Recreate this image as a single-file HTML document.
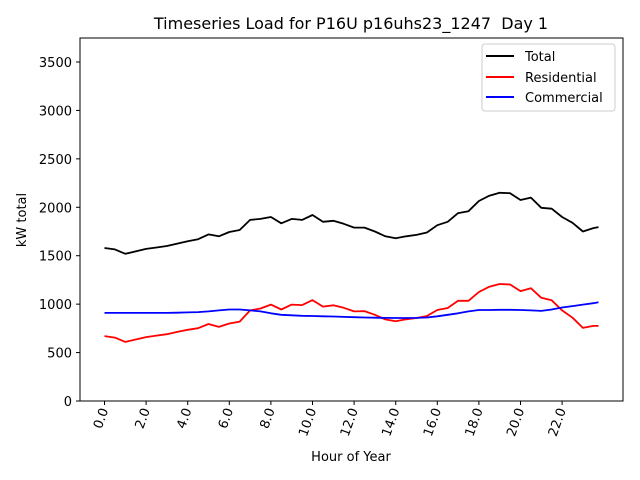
<!DOCTYPE html>
<html><head><meta charset="utf-8"><style>
body{margin:0;background:#fff;}
svg{display:block;font-family:"DejaVu Sans","Liberation Sans",sans-serif;}
</style></head><body>
<svg id="chart" width="640" height="480" viewBox="0 0 640 480">
<rect width="640" height="480" fill="#fff"/>
<text x="351" y="29" font-size="16" text-anchor="middle" style="white-space:pre">Timeseries Load for P16U p16uhs23_1247&#160; Day 1</text>
<g id="grid"></g>
<g id="series"></g>
<rect x="80" y="38" width="543" height="363" fill="none" stroke="#000" stroke-width="1"/>
<text x="351" y="461" font-size="13" text-anchor="middle">Hour of Year</text>
<text transform="translate(26,220) rotate(-90)" font-size="13" text-anchor="middle">kW total</text>
<g>
<rect x="482" y="44" width="133" height="67" rx="3" fill="#fff" stroke="#ccc" stroke-width="1"/>
<g><line x1="486" y1="56" x2="514" y2="56" stroke="#000" stroke-width="2"/><text x="525" y="61" font-size="13">Total</text></g>
<g><line x1="486" y1="77" x2="514" y2="77" stroke="#f00" stroke-width="2"/><text x="525" y="82" font-size="13">Residential</text></g>
<g><line x1="486" y1="97" x2="514" y2="97" stroke="#00f" stroke-width="2"/><text x="525" y="102" font-size="13">Commercial</text></g>
</g>
</svg>
<script>
const hours=[0,0.5,1,1.5,2,2.5,3,3.5,4,4.5,5,5.5,6,6.5,7,7.5,8,8.5,9,9.5,10,10.5,11,11.5,12,12.5,13,13.5,14,14.5,15,15.5,16,16.5,17,17.5,18,18.5,19,19.5,20,20.5,21,21.5,22,22.5,23,23.5,23.75];
const totalLoad=[1580,1565,1520,1545,1570,1585,1600,1625,1650,1670,1720,1700,1745,1765,1870,1880,1900,1835,1880,1870,1920,1850,1860,1830,1790,1790,1750,1700,1680,1700,1715,1740,1815,1850,1940,1960,2065,2120,2150,2145,2075,2100,1995,1985,1900,1840,1750,1785,1795];
const residentialLoad=[670,655,610,635,660,675,690,713,735,752,795,765,800,820,935,955,995,945,995,990,1042,975,988,962,925,928,890,842,823,843,857,878,940,960,1035,1035,1125,1180,1208,1203,1135,1165,1065,1040,935,860,755,775,775];
const commercialLoad=[910,910,910,910,910,910,910,912,915,918,925,935,945,945,935,925,905,890,885,880,878,875,872,868,865,862,860,858,857,857,858,862,875,890,905,925,940,940,942,942,940,935,930,945,965,980,995,1010,1020];
const yTicks=[0,500,1000,1500,2000,2500,3000,3500];
const xTicks=[0,2,4,6,8,10,12,14,16,18,20,22];
const NS="http://www.w3.org/2000/svg";
function xs(h){return 104.5+h*20.8;}
function ys(v){return 401-v*(339/3500);}
const grid=document.getElementById('grid');
yTicks.forEach(function(t){
  const l=document.createElementNS(NS,'line');
  l.setAttribute('x1',76);l.setAttribute('x2',80);l.setAttribute('y1',ys(t));l.setAttribute('y2',ys(t));l.setAttribute('stroke','#000');
  
  
  grid.appendChild(l);
  const tx=document.createElementNS(NS,'text');
  tx.setAttribute('x',72);tx.setAttribute('y',ys(t)+5);tx.setAttribute('font-size','13');tx.setAttribute('text-anchor','end');
  tx.textContent=t;
  
  
  grid.appendChild(tx);
});
xTicks.forEach(function(t){
  const x=xs(t);
  const l=document.createElementNS(NS,'line');
  l.setAttribute('x1',x);l.setAttribute('x2',x);l.setAttribute('y1',401);l.setAttribute('y2',405);l.setAttribute('stroke','#000');
  
  
  grid.appendChild(l);
  const tx=document.createElementNS(NS,'text');
  tx.setAttribute('transform','translate('+(x+4)+',410) rotate(-70)');
  tx.setAttribute('font-size','13');tx.setAttribute('text-anchor','end');
  tx.textContent=t.toFixed(1);
  
  
  grid.appendChild(tx);
});
const series=document.getElementById('series');
function draw(vals,color,name){
  const p=document.createElementNS(NS,'polyline');
  p.setAttribute('points',vals.map(function(v,i){return xs(hours[i]).toFixed(1)+','+ys(v).toFixed(1);}).join(' '));
  p.setAttribute('fill','none');p.setAttribute('stroke',color);p.setAttribute('stroke-width','1.8');p.setAttribute('stroke-linejoin','round');
  
  
  series.appendChild(p);
}
draw(totalLoad,'#000','total-line');
draw(residentialLoad,'#f00','residential-line');
draw(commercialLoad,'#00f','commercial-line');
</script>
</body></html>
